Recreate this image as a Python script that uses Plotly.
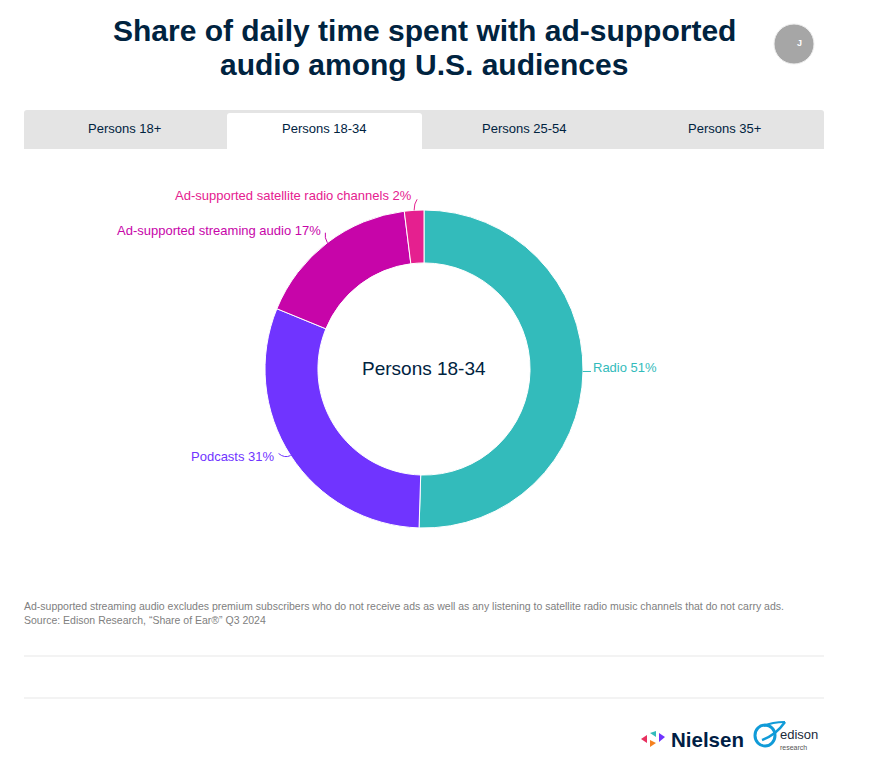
import math
import plotly.graph_objects as go

W, H = 876, 776
categories = ["Radio", "Podcasts", "Ad-supported streaming audio", "Ad-supported satellite radio channels"]
values = [51, 31, 17, 2]
colors = ["#33BBBB", "#7034FF", "#C705A9", "#E5208F"]
tabs = ["Persons 18+", "Persons 18-34", "Persons 25-54", "Persons 35+"]
active_tab = "Persons 18-34"
title_lines = ["Share of daily time spent with ad-supported", "audio among U.S. audiences"]
footnote = ("Ad-supported streaming audio excludes premium subscribers who do not receive ads as well as any "
            "listening to satellite radio music channels that do not carry ads.<br>"
            "Source: Edison Research, “Share of Ear®” Q3 2024")

NAVY = "#00233F"
FONT = "Liberation Sans"
CX, CY, R = 424, 369, 159


def px(x):
    return x / W


def py(y):
    return 1 - y / H


def pt(a, b):
    return f"{px(a):.5f},{py(b):.5f}"


def text(x, y, s, size, color, anchor="center"):
    return dict(x=px(x), y=py(y), xref="paper", yref="paper", text=s, showarrow=False,
                xanchor=anchor, yanchor="middle", align=anchor, borderpad=0, borderwidth=0,
                font=dict(family=FONT, size=size, color=color))


def rect(x0, y0, x1, y1, color):
    return dict(type="rect", xref="paper", yref="paper", x0=px(x0), x1=px(x1), y0=py(y0), y1=py(y1),
                fillcolor=color, line=dict(width=0), layer="below")


def top_round(x0, y0, x1, y1, r, color):
    d = (f"M {pt(x0, y1)} L {pt(x0, y0 + r)} Q {pt(x0, y0)} {pt(x0 + r, y0)} L {pt(x1 - r, y0)} "
         f"Q {pt(x1, y0)} {pt(x1, y0 + r)} L {pt(x1, y1)} Z")
    return dict(type="path", xref="paper", yref="paper", path=d, fillcolor=color, line=dict(width=0), layer="below")


def poly(points, color):
    d = "M " + " L ".join(pt(a, b) for a, b in points) + " Z"
    return dict(type="path", xref="paper", yref="paper", path=d, fillcolor=color, line=dict(width=0))


def curve(p0, c, p1, color, width=1):
    d = f"M {pt(*p0)} Q {pt(*c)} {pt(*p1)}"
    return dict(type="path", xref="paper", yref="paper", path=d, line=dict(color=color, width=width))


fig = go.Figure(go.Pie(
    labels=categories, values=values, sort=False, direction="clockwise", rotation=0, hole=0.667,
    marker=dict(colors=colors, line=dict(color="white", width=1)), textinfo="none", showlegend=False,
    domain=dict(x=[px(CX - R), px(CX + R)], y=[py(CY + R), py(CY - R)]),
))

shapes = [top_round(24, 110, 824, 149, 3, "#E4E4E4"), top_round(227, 113, 422, 149, 3, "#FFFFFF"),
          rect(24, 655.5, 824, 656.5, "#E8E8E8"), rect(24, 697.5, 824, 698.5, "#E8E8E8")]
shapes.append(dict(type="circle", xref="paper", yref="paper", x0=px(774), x1=px(814), y0=py(64), y1=py(24),
                   fillcolor="#A6A6A6", line=dict(width=1, color="#EEEEEE")))

anns = [text(424, 31, f"<b>{title_lines[0]}</b>", 30, NAVY),
        text(424, 64, f"<b>{title_lines[1]}</b>", 30, NAVY),
        text(799, 43, "<b>J</b>", 9, "#FFFFFF"),
        text(424, 368, active_tab, 19, NAVY),
        text(24, 613, footnote, 10.5, "#808080", anchor="left")]

for name, x in zip(tabs, [124, 324, 524, 724]):
    anns.append(text(x, 129, name, 13, NAVY))

# Outside labels and connectors, placed relative to each slice's mid angle on the rim
total = sum(values)
label_off = [(10, -3.5, "left"), (-16, 0.5, "right"), (-6.4, -12.5, "right"), (-2, -15, "right")]
line_ctrl = [(4, 0), (-6, 3), (-3, -5), (0, -7)]
line_end = [(8, 0), (-12, -2), (-2, -10), (3, -11)]
cum = 0
for i, (c, v) in enumerate(zip(categories, values)):
    mid = math.radians((cum + v / 2) / total * 360)
    cum += v
    ex, ey = CX + R * math.sin(mid), CY - R * math.cos(mid)
    ox, oy, anchor = label_off[i]
    shapes.append(curve((ex, ey), (ex + line_ctrl[i][0], ey + line_ctrl[i][1]),
                        (ex + line_end[i][0], ey + line_end[i][1]), colors[i]))
    anns.append(text(ex + ox, ey + oy, f"{c} {v}%", 13, colors[i], anchor=anchor))

# Logos
for pts, col in [([(641, 739), (647, 735), (647, 743)], "#E8305F"),
                 ([(650, 733), (656, 731), (656, 737)], "#33BBBB"),
                 ([(650, 740), (656, 743), (650, 747)], "#F58220"),
                 ([(659, 733), (665, 737), (659, 742)], "#7034FF")]:
    shapes.append(poly(pts, col))
anns.append(text(671, 739, "<b>Nielsen</b>", 20.5, "#001E45", anchor="left"))
shapes.append(dict(type="circle", xref="paper", yref="paper", x0=px(755), x1=px(775), y0=py(746), y1=py(725),
                   line=dict(color="#109BD8", width=3)))
shapes.append(curve((762, 740), (776, 735), (785, 722), "#109BD8", 2.5))
shapes.append(curve((785, 722), (772, 722), (764, 726), "#109BD8", 2))
anns.append(text(780, 734, "edison", 13, "#1A2A3A", anchor="left"))
anns.append(text(780, 747, "research", 7, "#555555", anchor="left"))

fig.update_layout(width=W, height=H, margin=dict(l=0, r=0, t=0, b=0), paper_bgcolor="white",
                  shapes=shapes, annotations=anns, font=dict(family=FONT))
fig.write_html("out.html", config={"displayModeBar": False},
               post_script="document.body.style.margin='0';document.documentElement.style.overflow='hidden';")
